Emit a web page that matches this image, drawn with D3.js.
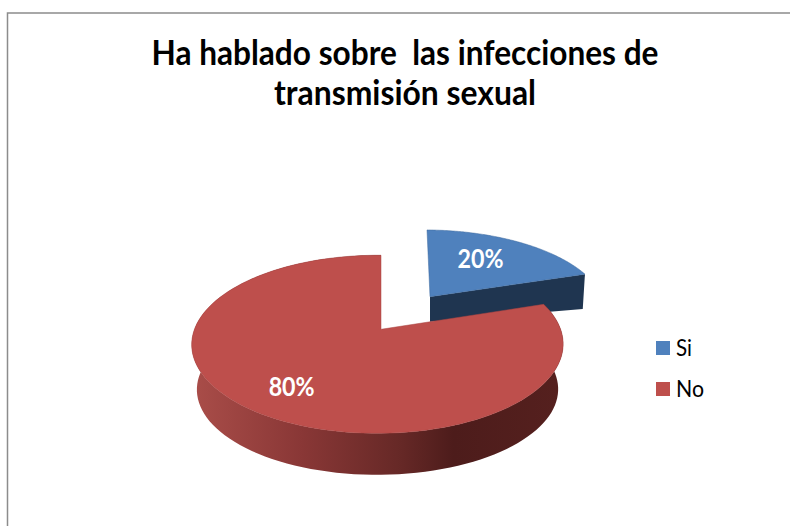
<!DOCTYPE html>
<html>
<head>
<meta charset="utf-8">
<script src="https://cdn.jsdelivr.net/npm/d3@7"></script>
<style>
  html, body { margin: 0; padding: 0; background: #fff; }
  text { font-family: Lato, "Open Sans", sans-serif; white-space: pre; }
</style>
</head>
<body>
<div id="chart"></div>
<script>
// DATA
const categories = ["Si", "No"];
const values = [20, 80];
const titleLines = ["Ha hablado sobre  las infecciones de", "transmisión sexual"];

// CONSTANTS
const WIDTH = 790;
const HEIGHT = 526;
const BLUE = "#4f81bd";
const RED = "#be4f4c";

// tilted disc in perspective: pie angle + radius -> screen position
const discProjection = (x0, y0, a, b, s = 0) => (angle, r = 1) => {
  const u = r * Math.sin(angle);
  const v = r * Math.cos(angle);
  const d = 1 + 0.1685 * v + 0.019 * u;
  return [x0 + (a * u + s * v) / d, y0 - (b * v) / d];
};

const discs = {
  Si: {
    top: discProjection(430, 296.7, 175.5, 78, -3.5),
    bottom: discProjection(430, 321.7, 173, 44, -3.5),
    labelR: 0.65, labelDx: -9
  },
  No: {
    top: discProjection(381, 329.3, 183, 86.5),
    bottom: discProjection(381, 375, 178, 83),
    labelR: 0.74, labelDx: 0
  }
};

const svg = d3.select("#chart")
  .append("svg")
  .attr("width", WIDTH)
  .attr("height", HEIGHT)
  .style("display", "block");

const defs = svg.append("defs");
const wallGradient = defs.append("linearGradient")
  .attr("id", "red-wall")
  .attr("gradientUnits", "userSpaceOnUse")
  .attr("x1", 198).attr("x2", 558)
  .attr("y1", 0).attr("y2", 0);
[[0, "#a84c48"], [0.29, "#893736"], [0.57, "#652826"], [0.71, "#4d1c1b"], [1, "#55201e"]]
  .forEach(([o, c]) => wallGradient.append("stop").attr("offset", o).attr("stop-color", c));

// frame, open on the right and at the bottom
svg.append("path")
  .attr("d", d3.line()([[7.5, HEIGHT], [7.5, 13], [WIDTH, 13]]))
  .attr("fill", "none")
  .attr("stroke", "#8c8c8c")
  .attr("stroke-width", 1.5);

// TITLE
const titleWidths = [507, 262];
svg.selectAll(".title")
  .data(titleLines)
  .enter()
  .append("text")
  .attr("class", "title")
  .attr("x", 405)
  .attr("y", (d, i) => 65 + i * 40)
  .attr("text-anchor", "middle")
  .attr("font-size", 34)
  .attr("font-weight", 700)
  .attr("fill", "#000")
  .attr("textLength", (d, i) => titleWidths[i])
  .attr("lengthAdjust", "spacingAndGlyphs")
  .text(d => d);

// PIE
const slices = d3.pie().sort(null)(values);
const line = d3.line();
const arcPoints = (project, a0, a1) => d3.range(0, 121).map(i => project(a0 + (a1 - a0) * i / 120));

const siSlice = slices[0];
const noSlice = slices[1];

// cut face of the pulled out slice
svg.append("path")
  .attr("d", line([
    discs.Si.top(siSlice.endAngle, 0),
    discs.Si.top(siSlice.endAngle),
    discs.Si.bottom(siSlice.endAngle),
    discs.Si.bottom(siSlice.endAngle, 0)
  ]) + "Z")
  .attr("fill", "#1f3550");

// top of the pulled out slice
svg.append("path")
  .attr("d", line([discs.Si.top(0, 0), ...arcPoints(discs.Si.top, siSlice.startAngle, siSlice.endAngle)]) + "Z")
  .attr("fill", BLUE)
  .attr("stroke", "#3f6a9f")
  .attr("stroke-width", 0.5);

// round side of the big slice
svg.append("path")
  .attr("d", line([
    ...arcPoints(discs.No.top, noSlice.startAngle, noSlice.endAngle),
    ...arcPoints(discs.No.bottom, noSlice.startAngle, noSlice.endAngle).reverse()
  ]) + "Z")
  .attr("fill", "url(#red-wall)");

// top of the big slice
svg.append("path")
  .attr("d", line([discs.No.top(0, 0), ...arcPoints(discs.No.top, noSlice.startAngle, noSlice.endAngle)]) + "Z")
  .attr("fill", RED)
  .attr("stroke", "#a94442")
  .attr("stroke-width", 0.5);

// LABELS
svg.selectAll(".pct")
  .data(slices)
  .enter()
  .append("text")
  .attr("class", "pct")
  .attr("x", (d, i) => {
    const disc = discs[categories[i]];
    return disc.top((d.startAngle + d.endAngle) / 2, disc.labelR)[0] + disc.labelDx;
  })
  .attr("y", (d, i) => {
    const disc = discs[categories[i]];
    return disc.top((d.startAngle + d.endAngle) / 2, disc.labelR)[1] + 9;
  })
  .attr("text-anchor", "middle")
  .attr("font-size", 27)
  .attr("font-weight", 700)
  .attr("fill", "#fff")
  .attr("textLength", 46)
  .attr("lengthAdjust", "spacingAndGlyphs")
  .text(d => d.data + "%");

// LEGEND
const legendY = d3.scalePoint().domain(categories).range([348, 389]);
const legendColor = d3.scaleOrdinal().domain(categories).range([BLUE, RED]);

const legend = svg.selectAll(".legend")
  .data(categories)
  .enter()
  .append("g")
  .attr("class", "legend")
  .attr("transform", d => `translate(656,${legendY(d)})`);

legend.append("rect")
  .attr("y", -7)
  .attr("width", 14)
  .attr("height", 14)
  .attr("fill", d => legendColor(d));

legend.append("text")
  .attr("x", 20)
  .attr("y", 7.5)
  .attr("font-size", 23)
  .attr("fill", "#000")
  .attr("textLength", d => d === "Si" ? 16 : 28)
  .attr("lengthAdjust", "spacingAndGlyphs")
  .text(d => d);
</script>
</body>
</html>
